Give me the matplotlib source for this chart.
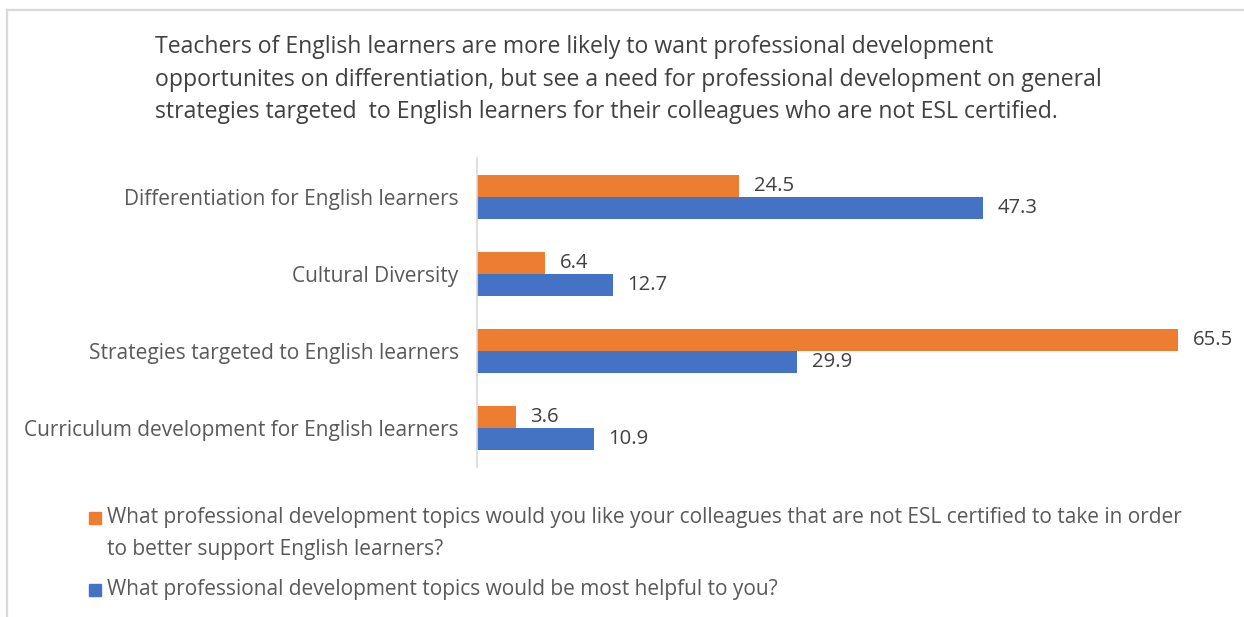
import matplotlib
matplotlib.use("Agg")
import matplotlib.pyplot as plt
from matplotlib.lines import Line2D
from matplotlib.patches import Rectangle

# Survey topics (top to bottom) and the share of respondents choosing each
categories = [
    "Differentiation for English learners",
    "Cultural Diversity",
    "Strategies targeted to English learners",
    "Curriculum development for English learners",
]
colleagues_values = [24.5, 6.4, 65.5, 3.6]
helpful_values = [47.3, 12.7, 29.9, 10.9]

series_labels = [
    ["What professional development topics would you like your colleagues that are not ESL certified to take in order",
     "to better support English learners?"],
    ["What professional development topics would be most helpful to you?"],
]
title_lines = [
    "Teachers of English learners are more likely to want professional development",
    "opportunites on differentiation, but see a need for professional development on general",
    "strategies targeted  to English learners for their colleagues who are not ESL certified.",
]

ORANGE = "#ED7D31"
BLUE = "#4472C4"
TEXT = "#595959"
TITLE = "#404040"
GRID = "#D9D9D9"

plt.rcParams["font.family"] = ["Open Sans", "DejaVu Sans"]

W, H = 1244, 617
fig = plt.figure(figsize=(W / 100, H / 100), dpi=100)
fig.patch.set_facecolor("white")


def fx(px):
    return px / W


def fy(py):
    return 1 - py / H


# light frame along the top and left edges
fig.add_artist(Line2D([fx(7), 1], [fy(9.5), fy(9.5)], color=GRID, lw=1.6, transform=fig.transFigure))
fig.add_artist(Line2D([fx(7.5), fx(7.5)], [fy(9.5), 0], color=GRID, lw=1.6, transform=fig.transFigure))

# title, one line at a time
for i, line in enumerate(title_lines):
    fig.text(fx(155), fy(47 + 32.5 * i), line, fontsize=16.6, color=TITLE, ha="left", va="center")

ax = fig.add_axes([fx(477), fy(467), fx(749), 309 / H])
n = len(categories)
pos = list(range(n))
bh = 0.285
b1 = ax.barh([p - bh / 2 for p in pos], colleagues_values, height=bh, color=ORANGE)
b2 = ax.barh([p + bh / 2 for p in pos], helpful_values, height=bh, color=BLUE)

for bars, vals in ((b1, colleagues_values), (b2, helpful_values)):
    for rect, v in zip(bars, vals):
        ax.annotate(f"{v:.1f}", xy=(v, rect.get_y() + rect.get_height() / 2),
                    xytext=(10.5, 0), textcoords="offset points",
                    ha="left", va="center", fontsize=14.6, color=TITLE)

ax.set_xlim(0, 70)
ax.set_ylim(n - 0.5, -0.5)
ax.set_yticks(pos)
ax.set_yticklabels(categories, fontsize=15, color=TEXT)
ax.tick_params(axis="y", length=0, pad=13.2)
ax.set_xticks([])
for side in ("top", "right", "bottom"):
    ax.spines[side].set_visible(False)
ax.spines["left"].set_color(GRID)
ax.spines["left"].set_linewidth(1.2)

# legend below the plot: swatch beside the first line of each entry
legend_rows = [(b1.patches[0].get_facecolor(), series_labels[0], 518),
               (b2.patches[0].get_facecolor(), series_labels[1], 590)]
for color, lines, cy in legend_rows:
    fig.add_artist(Rectangle((fx(89), fy(cy + 6)), fx(12), 12 / H, color=color, transform=fig.transFigure))
    for j, line in enumerate(lines):
        fig.text(fx(107), fy(cy + 31 * j), line, fontsize=15, color=TEXT, ha="left", va="center")

fig.savefig("out.png", dpi=100, facecolor="white")
